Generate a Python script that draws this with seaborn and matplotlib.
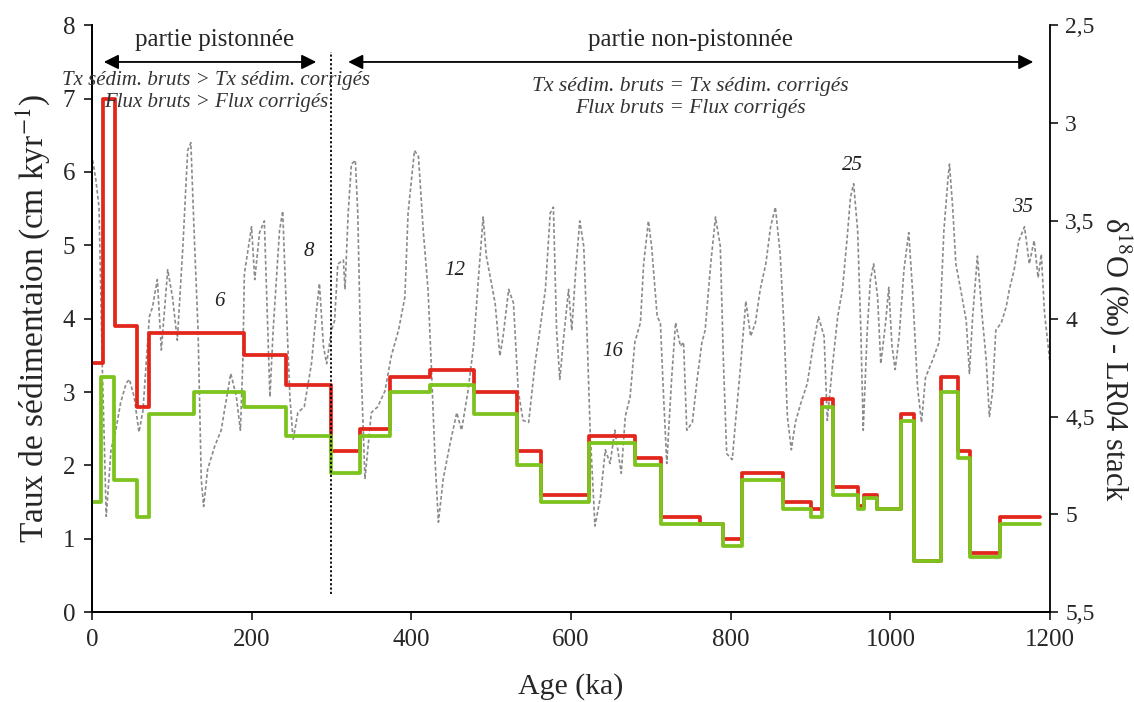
import matplotlib
matplotlib.use("Agg")
import matplotlib.pyplot as plt
import matplotlib.ticker as mticker
import seaborn as sns
import pandas as pd

# Sedimentation rate steps (left axis, cm/kyr)
raw_edges = [0, 14, 29, 57, 71, 191, 243, 300, 336, 373, 423, 479, 533, 563, 623, 680, 713,
             762, 791, 814, 866, 900, 914, 928, 959, 967, 983, 1013, 1030, 1063, 1085, 1100, 1137, 1187]
raw_rates = [3.4, 7.0, 3.9, 2.8, 3.8, 3.5, 3.1, 2.2, 2.5, 3.2, 3.3, 3.0, 2.2, 1.6, 2.4, 2.1, 1.3,
             1.2, 1.0, 1.9, 1.5, 1.4, 2.9, 1.7, 1.45, 1.6, 1.4, 2.7, 0.7, 3.2, 2.2, 0.8, 1.3]

corr_edges = [0, 12, 28, 57, 71, 128, 191, 243, 300, 336, 373, 423, 479, 533, 563, 623, 680, 713,
              762, 791, 814, 866, 900, 914, 928, 959, 967, 983, 1013, 1030, 1063, 1085, 1100, 1137, 1187]
corr_rates = [1.5, 3.2, 1.8, 1.3, 2.7, 3.0, 2.8, 2.4, 1.9, 2.4, 3.0, 3.1, 2.7, 2.0, 1.5, 2.3, 2.0, 1.2,
              1.2, 0.9, 1.8, 1.4, 1.3, 2.8, 1.6, 1.4, 1.55, 1.4, 2.6, 0.7, 3.0, 2.1, 0.75, 1.2]

# LR04 benthic stack (right axis, permil)
lr04_age = [1, 5, 9, 13, 18, 24, 30, 36, 43, 47, 53, 59, 64, 72, 76, 82, 87, 95, 101, 107, 114, 120,
            124, 128, 133, 137, 140, 145, 154, 162, 166, 174, 181, 186, 189, 191, 200, 204, 210, 216,
            223, 227, 235, 239, 243, 248, 252, 258, 266, 275, 281, 285, 290, 294, 300, 304, 308, 315,
            317, 321, 325, 330, 333, 337, 342, 350, 358, 367, 375, 384, 392, 396, 404, 409, 415, 421,
            425, 430, 434, 440, 448, 457, 463, 471, 478, 484, 490, 494, 499, 505, 511, 515, 522, 528,
            534, 540, 547, 555, 561, 568, 574, 578, 582, 586, 591, 597, 601, 606, 611, 616, 620, 624,
            630, 637, 643, 649, 655, 663, 668, 674, 680, 687, 691, 697, 701, 708, 712, 716, 720, 726,
            731, 737, 741, 745, 752, 758, 764, 768, 775, 781, 787, 791, 795, 802, 806, 812, 819, 825,
            831, 837, 844, 850, 856, 862, 867, 871, 876, 881, 888, 896, 904, 910, 917, 921, 927, 934,
            940, 946, 950, 954, 959, 963, 966, 971, 975, 979, 984, 988, 994, 998, 1002, 1006, 1011,
            1017, 1023, 1028, 1034, 1039, 1044, 1053, 1061, 1067, 1072, 1074, 1078, 1082, 1088, 1095,
            1099, 1103, 1109, 1115, 1120, 1124, 1128, 1132, 1139, 1145, 1149, 1155, 1161, 1168, 1174,
            1180, 1185, 1189, 1193, 1200]
lr04_d18o = [3.19, 3.29, 3.43, 4.23, 5.01, 4.67, 4.57, 4.43, 4.33, 4.31, 4.40, 4.58, 4.47, 3.99, 3.94,
             3.80, 4.16, 3.75, 3.89, 4.11, 3.63, 3.14, 3.10, 3.55, 4.06, 4.82, 4.96, 4.77, 4.65, 4.57,
             4.47, 4.28, 4.40, 4.57, 4.23, 3.77, 3.53, 3.80, 3.56, 3.50, 4.40, 4.06, 3.55, 3.45, 3.89,
             4.40, 4.62, 4.48, 4.45, 4.23, 3.97, 3.82, 4.14, 4.23, 4.06, 4.01, 3.72, 3.70, 3.85, 3.46,
             3.21, 3.19, 3.46, 4.23, 4.82, 4.48, 4.45, 4.37, 4.19, 4.06, 3.89, 3.46, 3.14, 3.17, 3.55,
             3.85, 4.23, 4.74, 5.04, 4.82, 4.65, 4.48, 4.57, 4.37, 4.14, 3.80, 3.48, 3.68, 3.79, 3.92,
             4.19, 4.09, 3.85, 3.92, 4.37, 4.52, 4.53, 4.23, 4.06, 3.85, 3.46, 3.43, 4.06, 4.31, 4.09,
             3.85, 4.06, 3.75, 3.50, 3.63, 4.06, 4.57, 5.06, 4.91, 4.67, 4.74, 4.57, 4.79, 4.50, 4.40,
             4.12, 4.02, 3.72, 3.50, 3.63, 3.99, 4.02, 4.40, 4.74, 4.31, 4.02, 4.14, 4.12, 4.57, 4.53,
             4.31, 4.12, 4.06, 3.72, 3.48, 3.63, 4.23, 4.69, 4.72, 4.53, 4.26, 3.91, 4.09, 4.02, 3.85,
             3.72, 3.53, 3.43, 3.67, 4.06, 4.50, 4.67, 4.53, 4.43, 4.33, 4.12, 3.99, 4.09, 4.52, 4.26,
             3.99, 3.85, 3.58, 3.38, 3.31, 3.55, 4.06, 4.57, 4.06, 3.80, 3.72, 3.89, 4.23, 4.02, 3.84,
             4.14, 4.26, 4.09, 3.75, 3.56, 3.87, 4.35, 4.53, 4.30, 4.21, 4.12, 3.55, 3.29, 3.21, 3.43,
             3.72, 3.85, 4.01, 4.28, 3.99, 3.68, 3.99, 4.21, 4.50, 4.37, 4.06, 4.02, 3.94, 3.85, 3.75,
             3.60, 3.53, 3.72, 3.60, 3.79, 3.67, 3.97, 4.23]

# MIS labels
mis_labels = ["6", "8", "12", "16", "25", "35"]
mis_x = [160, 272, 454, 652, 952, 1165]
mis_y = [4.24, 4.91, 4.66, 3.55, 6.09, 5.52]

raw = pd.DataFrame({"age": raw_edges, "rate": raw_rates + [raw_rates[-1]]})
corr = pd.DataFrame({"age": corr_edges, "rate": corr_rates + [corr_rates[-1]]})
lr04 = pd.DataFrame({"age": lr04_age, "d18o": lr04_d18o})

sns.set_style("ticks")
plt.rcParams["font.family"] = ["Liberation Serif", "DejaVu Serif"]
plt.rcParams["mathtext.fontset"] = "stix"

fig = plt.figure(figsize=(11.34, 7.02), dpi=100)
ax = fig.add_axes([0.081, 0.128, 0.845, 0.836])
ax2 = ax.twinx()
ax.set_zorder(ax2.get_zorder() + 1)
ax.patch.set_visible(False)

# LR04 stack in the background
sns.lineplot(data=lr04, x="age", y="d18o", ax=ax2, sort=False, estimator=None,
             color="#8a8a8a", lw=1.2, linestyle=(0, (2.2, 1.4)))
ax2.set_ylim(5.5, 2.5)

sns.lineplot(data=raw, x="age", y="rate", ax=ax, sort=False, estimator=None,
             drawstyle="steps-post", color="#e3261c", lw=2.7)
sns.lineplot(data=corr, x="age", y="rate", ax=ax, sort=False, estimator=None,
             drawstyle="steps-post", color="#7dc31e", lw=2.7)

ax.set_xlim(0, 1200)
ax.set_ylim(0, 8)

# boundary between piston-disturbed and undisturbed parts
ax.plot([300, 300], [0.25, 7.63], color="black", lw=1.3, linestyle=(0, (1.2, 1.2)))

arrow = dict(arrowstyle="<|-|>", color="black", lw=1.3, mutation_scale=22, shrinkA=0, shrinkB=0)
ax.annotate("", xy=(15, 7.5), xytext=(281, 7.5), arrowprops=arrow)
ax.annotate("", xy=(321, 7.5), xytext=(1179, 7.5), arrowprops=arrow)

ax.text(154, 7.8, "partie pistonnée", ha="center", va="center", fontsize=18)
ax.text(750, 7.8, "partie non-pistonnée", ha="center", va="center", fontsize=18)
ax.text(156, 7.25, "Tx sédim. bruts > Tx sédim. corrigés", ha="center", va="center",
        fontsize=15, style="italic", color="#333333")
ax.text(156, 6.95, "Flux bruts > Flux corrigés", ha="center", va="center",
        fontsize=15, style="italic", color="#333333")
ax.text(750, 7.16, "Tx sédim. bruts = Tx sédim. corrigés", ha="center", va="center",
        fontsize=15.5, style="italic", color="#333333")
ax.text(750, 6.87, "Flux bruts = Flux corrigés", ha="center", va="center",
        fontsize=15.5, style="italic", color="#333333")

for lab, x, y in zip(mis_labels, mis_x, mis_y):
    ax.text(x, y, lab, ha="center", va="center", fontsize=15, style="italic", color="#222222")

# axes styling
for a in (ax, ax2):
    a.spines["top"].set_visible(False)
    for s in ("left", "right", "bottom"):
        a.spines[s].set_linewidth(1.3)
        a.spines[s].set_color("black")
ax.spines["right"].set_visible(False)

ax.set_xticks([0, 200, 400, 600, 800, 1000, 1200])
ax.set_yticks(range(0, 9))
ax.tick_params(axis="both", direction="out", length=6, width=1.3, labelsize=18, pad=6)
ax2.set_yticks([2.5, 3, 3.5, 4, 4.5, 5, 5.5])
ax2.yaxis.set_major_formatter(mticker.FuncFormatter(lambda v, p: f"{v:g}".replace(".", ",")))
ax2.tick_params(axis="y", direction="out", length=6, width=1.3, labelsize=17, pad=5)

ax.set_xlabel("Age (ka)", fontsize=21.5, labelpad=16)
ax.set_ylabel("Taux de sédimentaion (cm kyr$^{-1}$)", fontsize=24, labelpad=8)
ax2.set_ylabel("δ$^{18}$O (‰) - LR04 stack", fontsize=22, rotation=270, va="center")
ax2.yaxis.set_label_coords(1.0685, 0.43)

fig.savefig("out.png", dpi=100)
